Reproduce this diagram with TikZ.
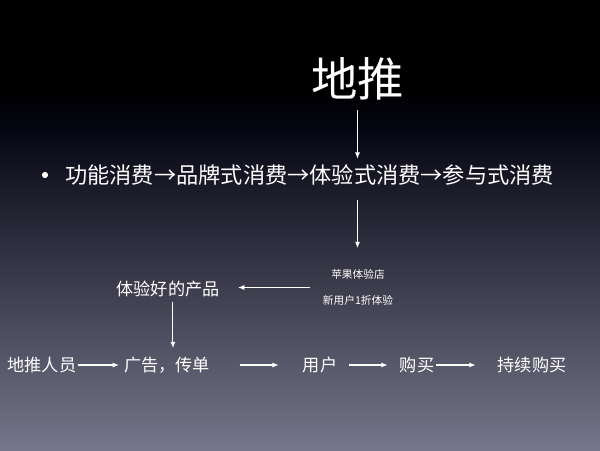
\documentclass[tikz,border=0pt]{standalone}
\usepackage{fontspec}
\setmainfont{Noto Sans CJK SC}
\usetikzlibrary{arrows.meta,positioning}
\definecolor{slidetop}{RGB}{6,6,20}
\definecolor{slidemid}{RGB}{48,48,76}
\definecolor{slidebot}{RGB}{118,118,138}

\begin{document}
\begin{tikzpicture}[x = 0.025cm, y = -0.025cm,
  every node/.style = {text = white, inner sep = 0pt},
  arr/.style = {draw = white, line width = 0.75pt, -{Latex[length = 4.5pt, width = 3.6pt]}},
  big/.style = {font = \fontsize{15.8}{18}\selectfont},
  mid/.style = {font = \fontsize{12.2}{14}\selectfont},
  small/.style = {font = \fontsize{7.6}{9}\selectfont, align = center}]
\useasboundingbox (0,0) rectangle (600,450);
\fill[black] (0,0) rectangle (600,90);
\shade[top color = black, bottom color = slidetop] (0,90) rectangle (600,130);
\shade[top color = slidetop, middle color = slidemid, bottom color = slidebot] (0,130) rectangle (600,450);

\node[font = \fontsize{33}{38}\selectfont] (1) at (357.5,79) {地推};
\node[big, anchor = west] (2) at (65,175) {功能消费→品牌式消费→体验式消费→参与式消费};
\node[circle, fill = white, minimum size = 4.4pt] (3) at (45,175) {};
\node[small] (4) at (358,287.5) {苹果体验店\\[9.5pt]新用户1折体验};
\node[mid] (5) at (168,289) {体验好的产品};
\node[mid] (6) at (42,365) {地推人员};
\node[mid] (7) at (167,365) {广告，传单};
\node[mid] (8) at (320,365) {用户};
\node[mid] (9) at (417,365) {购买};
\node[mid] (10) at (532,365) {持续购买};

\draw[arr, shorten <= 7pt, shorten >= 4pt] (1) -- (1 |- 2.north);
\draw[arr, shorten <= 10pt, shorten >= 15pt] (1 |- 2.south) -- (1 |- 4.north);
\draw[arr, shorten <= 9pt, shorten >= 13pt] (4.west) -- (4.west -| 5.east);
\draw[arr, shorten <= 3pt, shorten >= 6pt] ([xshift = 3.5pt]5.south) -- ([xshift = 3.5pt]5.south |- 7.north);
\draw[arr, shorten <= 0.7pt, shorten >= 3.5pt] (6) -- (7);
\draw[arr, shorten <= 21pt, shorten >= 17pt] (7) -- (8);
\draw[arr, shorten <= 8.5pt, shorten >= 8.5pt] (8) -- (9);
\draw[arr, shorten <= 1.4pt, shorten >= 15.5pt] (9) -- (10);
\end{tikzpicture}
\end{document}
